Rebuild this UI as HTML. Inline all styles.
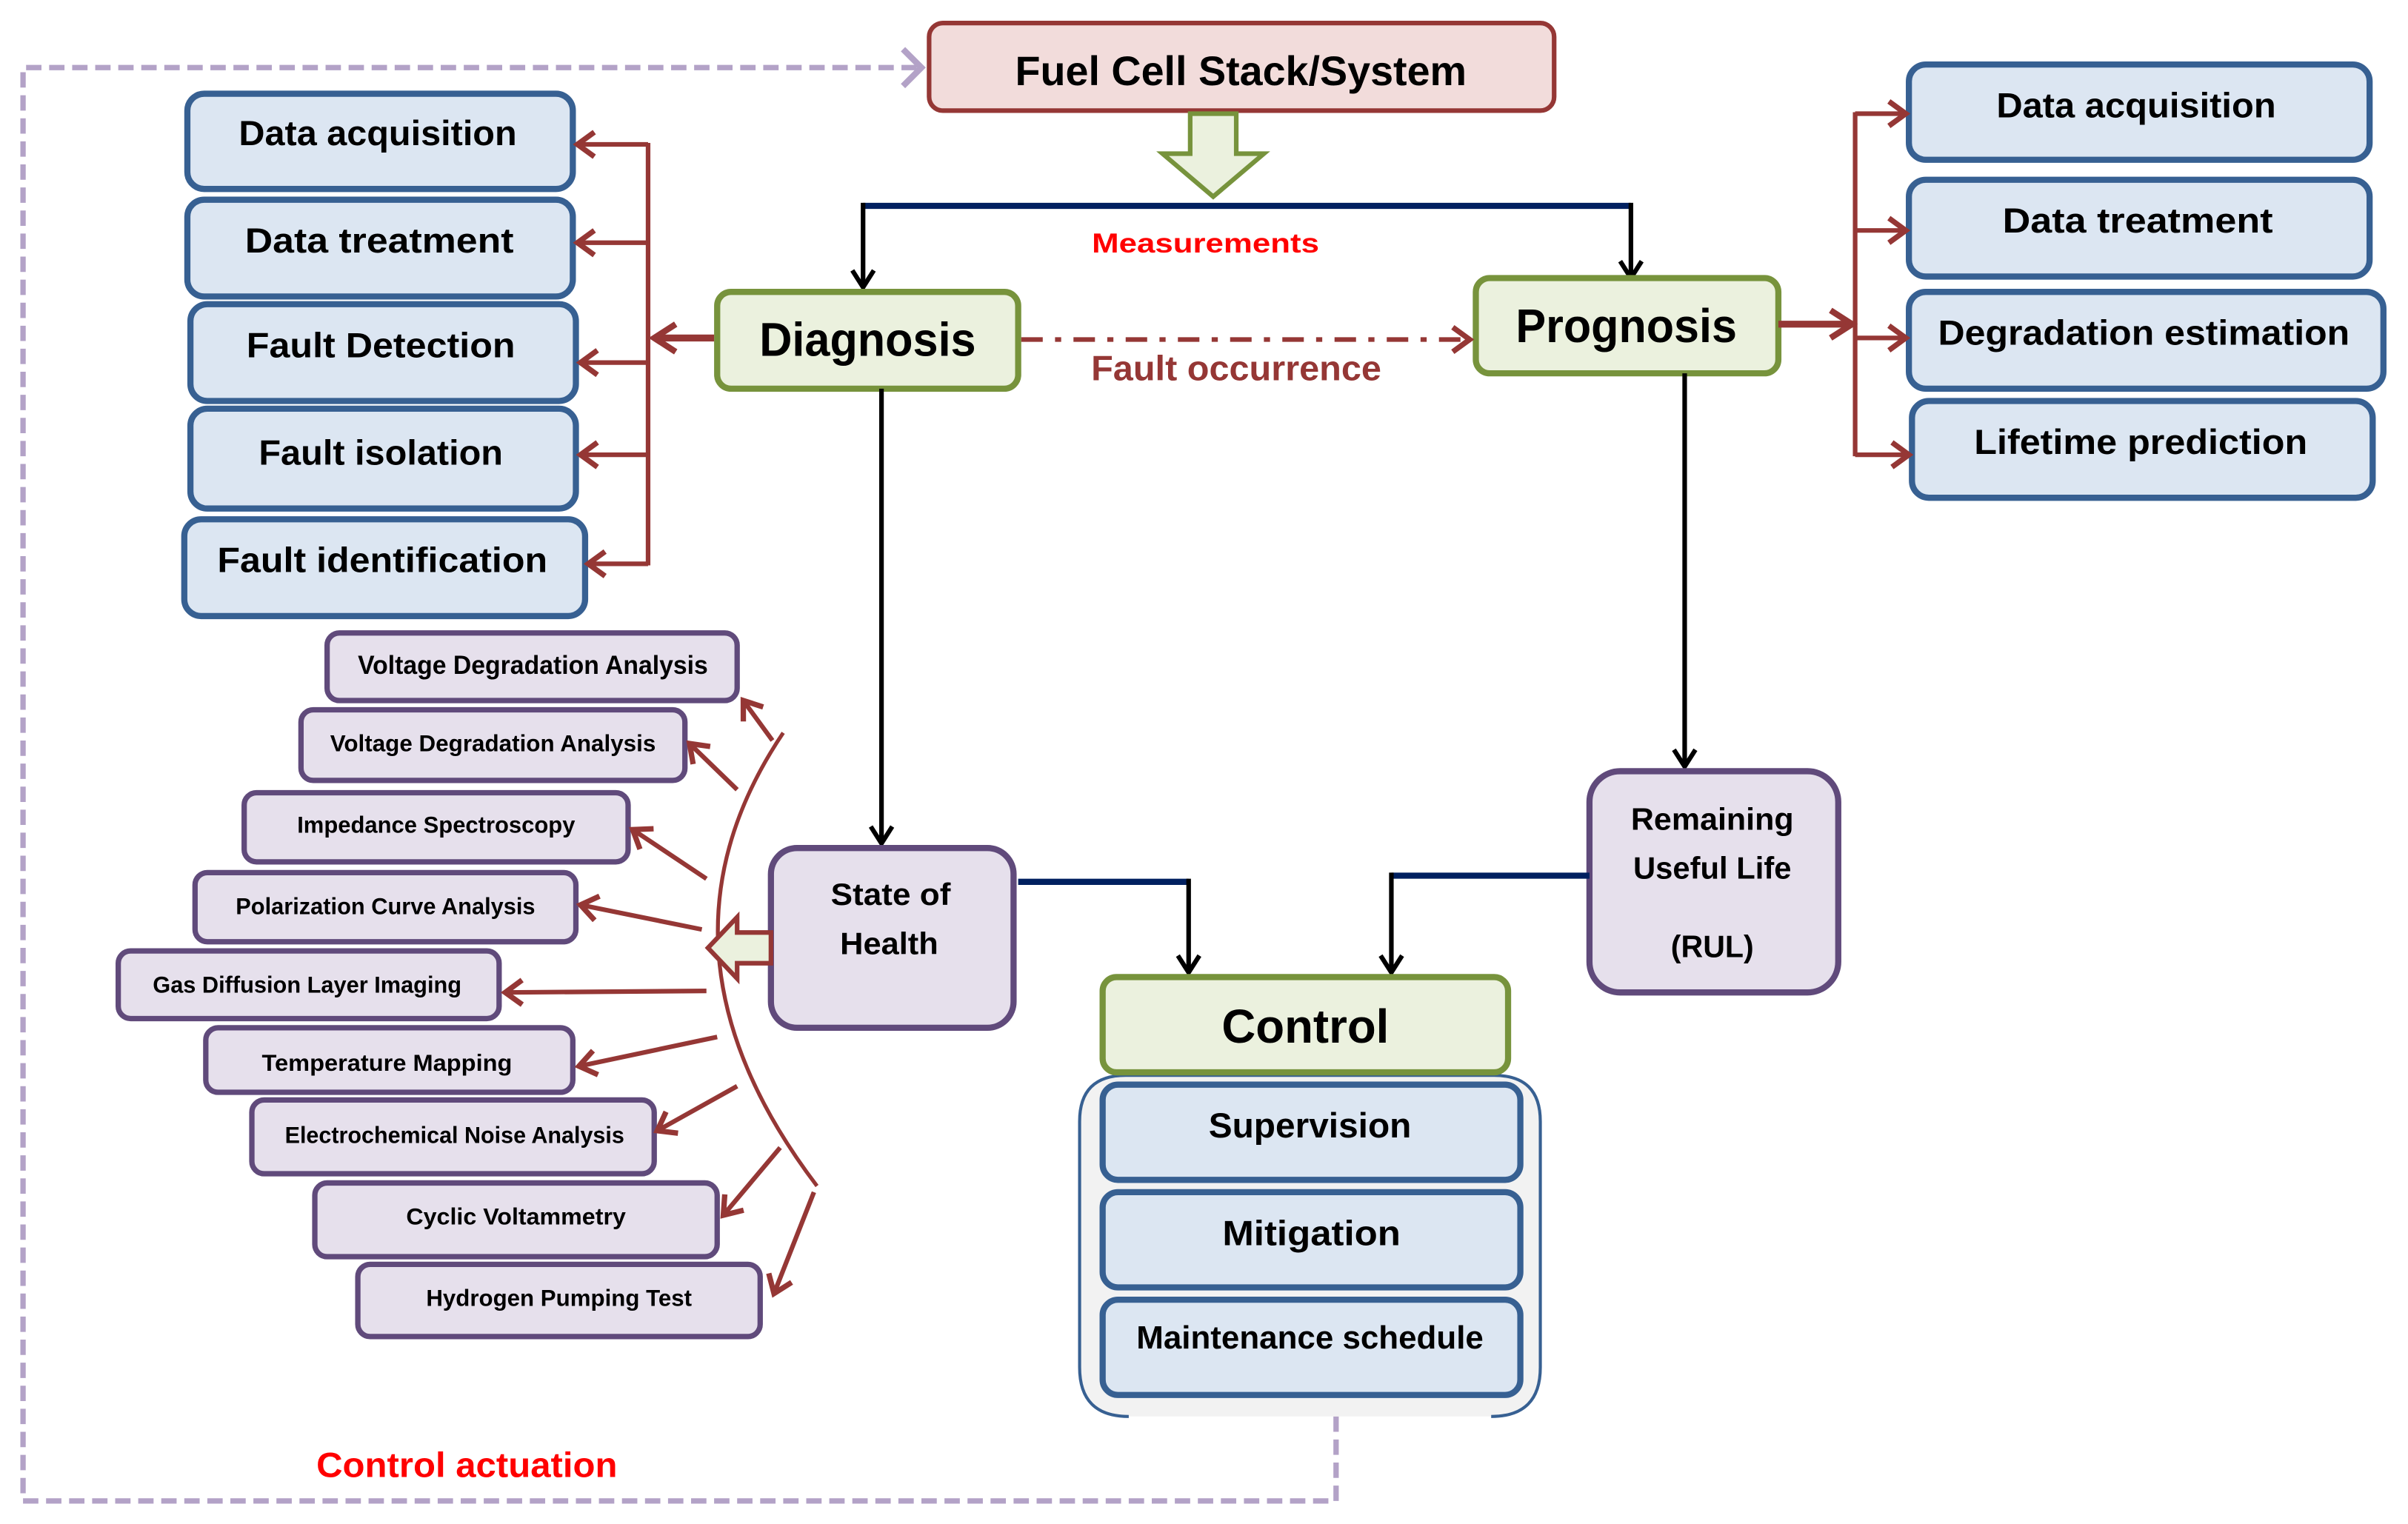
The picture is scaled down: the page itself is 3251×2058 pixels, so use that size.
<!DOCTYPE html>
<html><head><meta charset="utf-8"><style>
html,body{margin:0;padding:0;background:#fff;}
svg{display:block;}
text{font-family:"Liberation Sans",sans-serif;font-weight:bold;fill:#000;dominant-baseline:central;text-anchor:middle;}
</style></head><body>
<svg width="3251" height="2058" viewBox="0 0 1568 992" preserveAspectRatio="none" xmlns="http://www.w3.org/2000/svg">
<defs>
<marker id="ar" markerUnits="userSpaceOnUse" markerWidth="22" markerHeight="22" refX="15" refY="11" orient="auto"><path d="M4,3 L15,11 L4,19" fill="none" stroke="#953735" stroke-width="3.5"/></marker>
<marker id="arb" markerUnits="userSpaceOnUse" markerWidth="24" markerHeight="24" refX="18" refY="12" orient="auto"><path d="M4,3 L18,12 L4,21" fill="none" stroke="#953735" stroke-width="4"/></marker>
<marker id="ak" markerUnits="userSpaceOnUse" markerWidth="20" markerHeight="20" refX="14" refY="10" orient="auto"><path d="M3,3 L14,10 L3,17" fill="none" stroke="#000" stroke-width="3"/></marker>
<marker id="ap" markerUnits="userSpaceOnUse" markerWidth="24" markerHeight="30" refX="16" refY="15" orient="auto"><path d="M4,3 L16,15 L4,27" fill="none" stroke="#b3a2c7" stroke-width="4"/></marker>
</defs>

<path d="M870,922 L870,977 L15,977 L15,44 L600,44" fill="none" stroke="#b3a2c7" stroke-width="3.5" stroke-dasharray="10,5" marker-end="url(#ap)"/>

<rect x="605" y="15" width="407" height="57" rx="9" fill="#f2dcdb" stroke="#953735" stroke-width="3"/>
<text x="808" y="46" font-size="27" textLength="294" lengthAdjust="spacingAndGlyphs">Fuel Cell Stack/System</text>
<path d="M775,74 L805,74 L805,100 L823,100 L790,128 L757,100 L775,100 Z" fill="#ebf1de" stroke="#77933c" stroke-width="3"/>

<path d="M562,134 L1062,134" stroke="#002060" stroke-width="4"/>
<path d="M562,132 L562,187" stroke="#000" stroke-width="3" marker-end="url(#ak)"/>
<path d="M1062,132 L1062,181" stroke="#000" stroke-width="3" marker-end="url(#ak)"/>
<text x="785" y="158" font-size="18" textLength="148" lengthAdjust="spacingAndGlyphs" style="fill:#ff0000">Measurements</text>

<rect x="467" y="190" width="196" height="63" rx="9" fill="#ebf1de" stroke="#77933c" stroke-width="4"/>
<text x="565" y="221" font-size="31" textLength="141" lengthAdjust="spacingAndGlyphs">Diagnosis</text>
<rect x="961" y="181" width="197" height="62" rx="9" fill="#ebf1de" stroke="#77933c" stroke-width="4"/>
<text x="1059" y="212" font-size="31" textLength="144" lengthAdjust="spacingAndGlyphs">Prognosis</text>
<path d="M665,221 L957,221" stroke="#953735" stroke-width="3" stroke-dasharray="14,8,4,8" fill="none" marker-end="url(#ar)"/>
<text x="805" y="240" font-size="23" textLength="189" lengthAdjust="spacingAndGlyphs" style="fill:#953735">Fault occurrence</text>

<g fill="#dce6f2" stroke="#376092" stroke-width="4">
<rect x="122" y="61" width="251" height="62" rx="11"/>
<rect x="122" y="130" width="251" height="63" rx="11"/>
<rect x="124" y="198" width="251" height="63" rx="11"/>
<rect x="124" y="266" width="251" height="65" rx="11"/>
<rect x="120" y="338" width="261" height="63" rx="11"/>
</g>
<text x="246" y="87" font-size="23" textLength="181" lengthAdjust="spacingAndGlyphs">Data acquisition</text>
<text x="247" y="157" font-size="23" textLength="175" lengthAdjust="spacingAndGlyphs">Data treatment</text>
<text x="248" y="225" font-size="23" textLength="175" lengthAdjust="spacingAndGlyphs">Fault Detection</text>
<text x="248" y="295" font-size="23" textLength="159" lengthAdjust="spacingAndGlyphs">Fault isolation</text>
<text x="249" y="365" font-size="23" textLength="215" lengthAdjust="spacingAndGlyphs">Fault identification</text>
<g stroke="#953735" stroke-width="3" fill="none">
<path d="M422,93 L422,368"/>
<path d="M422,94 L376,94" marker-end="url(#ar)"/>
<path d="M422,158 L376,158" marker-end="url(#ar)"/>
<path d="M422,236 L378,236" marker-end="url(#ar)"/>
<path d="M422,296 L378,296" marker-end="url(#ar)"/>
<path d="M422,367 L383,367" marker-end="url(#ar)"/>
<path d="M465,220 L426,220" stroke-width="4.5" marker-end="url(#arb)"/>
</g>

<g fill="#dce6f2" stroke="#376092" stroke-width="4">
<rect x="1243" y="42" width="300" height="62" rx="11"/>
<rect x="1243" y="117" width="300" height="63" rx="11"/>
<rect x="1243" y="190" width="309" height="63" rx="11"/>
<rect x="1245" y="261" width="300" height="63" rx="11"/>
</g>
<text x="1391" y="69" font-size="23" textLength="182" lengthAdjust="spacingAndGlyphs">Data acquisition</text>
<text x="1392" y="144" font-size="23" textLength="176" lengthAdjust="spacingAndGlyphs">Data treatment</text>
<text x="1396" y="217" font-size="23" textLength="268" lengthAdjust="spacingAndGlyphs">Degradation estimation</text>
<text x="1394" y="288" font-size="23" textLength="217" lengthAdjust="spacingAndGlyphs">Lifetime prediction</text>
<g stroke="#953735" stroke-width="3" fill="none">
<path d="M1208,73 L1208,297"/>
<path d="M1208,74 L1241,74" marker-end="url(#ar)"/>
<path d="M1208,150 L1241,150" marker-end="url(#ar)"/>
<path d="M1208,220 L1241,220" marker-end="url(#ar)"/>
<path d="M1208,296 L1243,296" marker-end="url(#ar)"/>
<path d="M1158,211 L1206,211" stroke-width="4.5" marker-end="url(#arb)"/>
</g>

<path d="M574,253 L574,549" stroke="#000" stroke-width="3" marker-end="url(#ak)"/>
<path d="M1097,243 L1097,499" stroke="#000" stroke-width="3" marker-end="url(#ak)"/>

<rect x="502" y="552" width="158" height="117" rx="17" fill="#e6e0ec" stroke="#604a7b" stroke-width="4"/>
<text x="580" y="582" font-size="20" textLength="78" lengthAdjust="spacingAndGlyphs">State of</text>
<text x="579" y="614" font-size="20" textLength="64" lengthAdjust="spacingAndGlyphs">Health</text>
<rect x="1035" y="502" width="162" height="144" rx="20" fill="#e6e0ec" stroke="#604a7b" stroke-width="4"/>
<text x="1115" y="533" font-size="20" textLength="106" lengthAdjust="spacingAndGlyphs">Remaining</text>
<text x="1115" y="565" font-size="20" textLength="103" lengthAdjust="spacingAndGlyphs">Useful Life</text>
<text x="1115" y="616" font-size="20" textLength="54" lengthAdjust="spacingAndGlyphs">(RUL)</text>

<path d="M663,574 L774,574" stroke="#002060" stroke-width="4"/>
<path d="M774,572 L774,633" stroke="#000" stroke-width="3" marker-end="url(#ak)"/>
<path d="M1035,570 L906,570" stroke="#002060" stroke-width="4"/>
<path d="M906,568 L906,633" stroke="#000" stroke-width="3" marker-end="url(#ak)"/>

<path d="M735,922 Q703,922 703,890 L703,730 Q703,700 733,700 L973,700 Q1003,700 1003,730 L1003,890 Q1003,922 971,922" fill="#f2f2f2" stroke="#376092" stroke-width="2"/>
<rect x="718" y="636" width="264" height="62" rx="9" fill="#ebf1de" stroke="#77933c" stroke-width="4"/>
<text x="850" y="668" font-size="31" textLength="109" lengthAdjust="spacingAndGlyphs">Control</text>
<g fill="#dce6f2" stroke="#376092" stroke-width="4">
<rect x="718" y="706" width="272" height="62" rx="10"/>
<rect x="718" y="776" width="272" height="62" rx="10"/>
<rect x="718" y="846" width="272" height="62" rx="10"/>
</g>
<text x="853" y="733" font-size="23" textLength="132" lengthAdjust="spacingAndGlyphs">Supervision</text>
<text x="854" y="803" font-size="23" textLength="116" lengthAdjust="spacingAndGlyphs">Mitigation</text>
<text x="853" y="871" font-size="21" textLength="226" lengthAdjust="spacingAndGlyphs">Maintenance schedule</text>

<g fill="#e6e0ec" stroke="#604a7b" stroke-width="3.5">
<rect x="213" y="412" width="267" height="44" rx="8"/>
<rect x="196" y="462" width="250" height="46" rx="8"/>
<rect x="159" y="516" width="250" height="45" rx="8"/>
<rect x="127" y="568" width="248" height="45" rx="8"/>
<rect x="77" y="619" width="248" height="44" rx="8"/>
<rect x="134" y="669" width="239" height="42" rx="8"/>
<rect x="164" y="716" width="262" height="48" rx="8"/>
<rect x="205" y="770" width="262" height="48" rx="8"/>
<rect x="233" y="823" width="262" height="47" rx="8"/>
</g>
<text x="347" y="433" font-size="17" textLength="228" lengthAdjust="spacingAndGlyphs">Voltage Degradation Analysis</text>
<text x="321" y="484" font-size="15" textLength="212" lengthAdjust="spacingAndGlyphs">Voltage Degradation Analysis</text>
<text x="284" y="537" font-size="15" textLength="181" lengthAdjust="spacingAndGlyphs">Impedance Spectroscopy</text>
<text x="251" y="590" font-size="15" textLength="195" lengthAdjust="spacingAndGlyphs">Polarization Curve Analysis</text>
<text x="200" y="641" font-size="15" textLength="201" lengthAdjust="spacingAndGlyphs">Gas Diffusion Layer Imaging</text>
<text x="252" y="692" font-size="15" textLength="163" lengthAdjust="spacingAndGlyphs">Temperature Mapping</text>
<text x="296" y="739" font-size="15" textLength="221" lengthAdjust="spacingAndGlyphs">Electrochemical Noise Analysis</text>
<text x="336" y="792" font-size="15" textLength="143" lengthAdjust="spacingAndGlyphs">Cyclic Voltammetry</text>
<text x="364" y="845" font-size="15" textLength="173" lengthAdjust="spacingAndGlyphs">Hydrogen Pumping Test</text>

<path d="M510,477 Q415,618 532,772" fill="none" stroke="#953735" stroke-width="2.5"/>
<g stroke="#953735" stroke-width="3" fill="none">
<path d="M503,482 L484,456" marker-end="url(#ar)"/>
<path d="M480,514 L449,484" marker-end="url(#ar)"/>
<path d="M460,572 L412,540" marker-end="url(#ar)"/>
<path d="M457,605 L378,589" marker-end="url(#ar)"/>
<path d="M460,645 L329,646" marker-end="url(#ar)"/>
<path d="M467,675 L377,694" marker-end="url(#ar)"/>
<path d="M480,707 L428,736" marker-end="url(#ar)"/>
<path d="M508,747 L471,791" marker-end="url(#ar)"/>
<path d="M530,776 L504,842" marker-end="url(#ar)"/>
</g>
<path d="M502,607 L480,607 L480,597 L461,617 L480,637 L480,627 L502,627 Z" fill="#ebf1de" stroke="#953735" stroke-width="3"/>

<text x="304" y="954" font-size="23" textLength="196" lengthAdjust="spacingAndGlyphs" style="fill:#ff0000">Control actuation</text>
</svg>
</body></html>
